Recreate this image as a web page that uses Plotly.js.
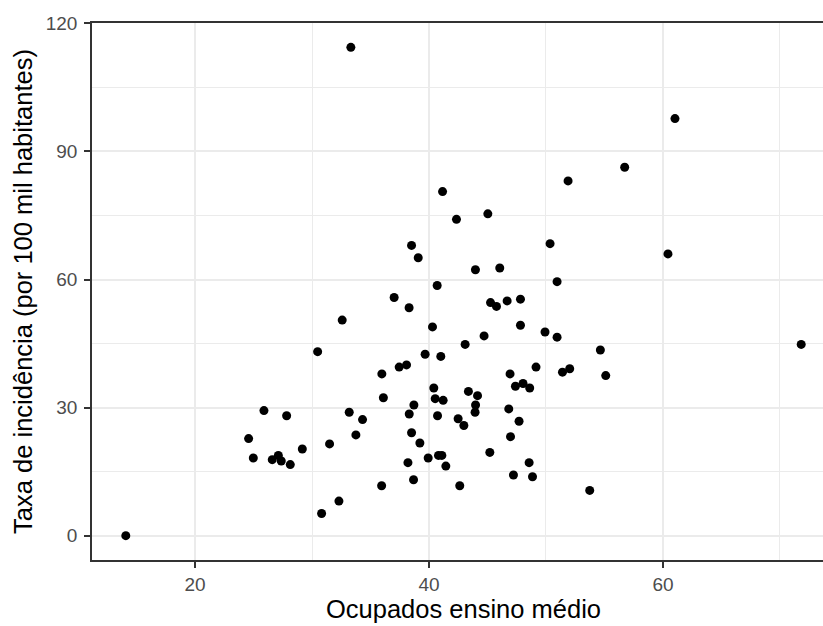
<!DOCTYPE html>
<html>
<head>
<meta charset="utf-8">
<script src="https://cdn.plot.ly/plotly-3.0.1.min.js"></script>
<style>
html,body{margin:0;padding:0;overflow:hidden;background:#fff;}
#chart{width:840px;height:626px;}
</style>
</head>
<body>
<div id="chart"></div>
<script>
// Ocupados ensino médio (x) vs Taxa de incidência (y)
const ocupadosEnsinoMedio = [
  33.32, 41.16, 51.89, 56.73, 61.03, 30.48, 42.35, 45.03, 38.51, 39.08,
  50.35, 43.97, 46.05, 40.70, 50.95, 37.02, 38.30, 45.26, 45.77, 46.68,
  47.82, 32.58, 40.30, 47.82, 44.71, 49.92, 50.95, 43.09, 39.67, 41.01,
  35.97, 37.45, 38.08, 46.93, 49.15, 51.41, 52.03, 47.39, 48.04, 48.61,
  40.41, 43.37, 44.15, 36.10, 60.43, 54.65, 55.11, 71.82, 14.08, 25.89,
  27.83, 24.58, 24.98, 26.60, 27.12, 27.37, 28.14, 29.17, 31.50, 30.82,
  33.18, 34.32, 33.75, 32.30, 35.95, 38.71, 38.31, 38.51, 39.22, 38.20,
  38.68, 39.93, 40.81, 41.10, 41.44, 40.53, 41.21, 40.73, 42.49, 42.98,
  42.63, 43.98, 43.94, 45.20, 46.82, 47.70, 46.97, 48.56, 47.22, 48.85,
  53.74
];
const taxaIncidencia = [
  114.4, 80.6, 83.1, 86.3, 97.7, 43.1, 74.1, 75.4, 68.0, 65.1,
  68.4, 62.3, 62.7, 58.6, 59.5, 55.8, 53.4, 54.6, 53.7, 55.0,
  55.4, 50.5, 48.9, 49.3, 46.8, 47.7, 46.5, 44.8, 42.5, 42.0,
  37.9, 39.5, 40.0, 37.9, 39.5, 38.3, 39.1, 35.0, 35.65, 34.6,
  34.6, 33.8, 32.8, 32.3, 66.0, 43.5, 37.5, 44.8, 0.0, 29.3,
  28.1, 22.75, 18.2, 17.8, 18.8, 17.5, 16.65, 20.3, 21.5, 5.2,
  28.9, 27.2, 23.6, 8.1, 11.7, 30.6, 28.5, 24.1, 21.7, 17.1,
  13.1, 18.2, 18.8, 18.8, 16.3, 32.1, 31.7, 28.1, 27.4, 25.8,
  11.7, 30.6, 28.9, 19.5, 29.7, 26.8, 23.2, 17.1, 14.2, 13.8,
  10.6
];
const xTicks = [20, 40, 60];
const yTicks = [0, 30, 60, 90, 120];
const xTitle = "Ocupados ensino médio";
const yTitle = "Taxa de incidência (por 100 mil habitantes)";

const font = "Liberation Sans, Arial, sans-serif";

const trace = {
  type: "scatter",
  mode: "markers",
  x: ocupadosEnsinoMedio,
  y: taxaIncidencia,
  marker: {color: "#000000", size: 9, line: {width: 0}},
  hoverinfo: "x+y"
};

function axisBase() {
  return {
    showline: true,
    linecolor: "#333333",
    linewidth: 1.5,
    mirror: true,
    ticks: "outside",
    ticklen: 6,
    tickwidth: 1.5,
    tickcolor: "#333333",
    showgrid: true,
    gridcolor: "#EBEBEB",
    gridwidth: 2,
    zeroline: false,
    tickfont: {family: font, size: 19, color: "#4D4D4D"}
  };
}

const layout = {
  width: 840,
  height: 626,
  margin: {l: 92, r: 5, t: 23, b: 66},
  paper_bgcolor: "#ffffff",
  plot_bgcolor: "#ffffff",
  showlegend: false,
  xaxis: Object.assign(axisBase(), {
    range: [11.19, 74.71],
    tickmode: "array",
    tickvals: xTicks,
    ticktext: xTicks.map(String),
    minor: {dtick: 10, tick0: 0, showgrid: true, gridcolor: "#EBEBEB", gridwidth: 1.2, ticks: ""},
    title: {text: xTitle, font: {family: font, size: 25.5, color: "#000000"}, standoff: 5}
  }),
  yaxis: Object.assign(axisBase(), {
    range: [-5.7, 120.1],
    tickmode: "array",
    tickvals: yTicks,
    ticktext: yTicks.map(String),
    ticklabelstandoff: 3,
    minor: {dtick: 15, tick0: 0, showgrid: true, gridcolor: "#EBEBEB", gridwidth: 1.2, ticks: ""},
    title: {text: yTitle, font: {family: font, size: 25.5, color: "#000000"}, standoff: 6}
  })
};

Plotly.newPlot("chart", [trace], layout, {displayModeBar: false});
</script>
</body>
</html>
